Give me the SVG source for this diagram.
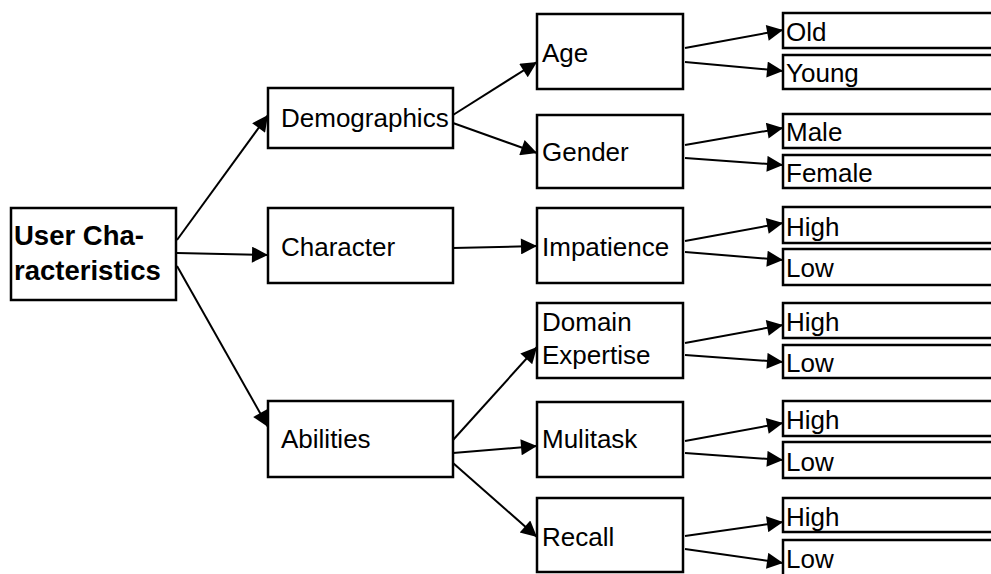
<svg xmlns="http://www.w3.org/2000/svg" width="991" height="574" viewBox="0 0 991 574">
  <style>
    .box { fill: #fff; stroke: #000; stroke-width: 2.5; }
    .t { font-family: "Liberation Sans", Arial, sans-serif; font-size: 26px; fill: #000; }
    .tb { font-family: "Liberation Sans", Arial, sans-serif; font-size: 27.5px; font-weight: bold; fill: #000; }
    .edge { stroke: #000; stroke-width: 2; fill: none; marker-end: url(#arrow); }
  </style>
  <defs>
    <marker id="arrow" viewBox="0 0 10 10" refX="10" refY="5" markerUnits="userSpaceOnUse" markerWidth="18" markerHeight="16" orient="auto">
      <path d="M0,0 L10,5 L0,10 Z" fill="#000"/>
    </marker>
  </defs>
  <rect width="991" height="574" fill="#fff"/>

  <!-- connectors -->
  <g id="connectors">
    <line class="edge" x1="177" y1="240" x2="268" y2="115"/>
    <line class="edge" x1="177" y1="253" x2="268" y2="255"/>
    <line class="edge" x1="177" y1="266" x2="268" y2="427"/>

    <line class="edge" x1="453" y1="115" x2="537" y2="62"/>
    <line class="edge" x1="453" y1="123" x2="537" y2="153"/>
    <line class="edge" x1="453" y1="248" x2="537" y2="246"/>
    <line class="edge" x1="453" y1="440" x2="537" y2="347"/>
    <line class="edge" x1="453" y1="453" x2="537" y2="446"/>
    <line class="edge" x1="453" y1="463" x2="537" y2="537"/>

    <line class="edge" x1="685" y1="48" x2="783" y2="30"/>
    <line class="edge" x1="685" y1="62" x2="783" y2="71"/>
    <line class="edge" x1="685" y1="145" x2="783" y2="128"/>
    <line class="edge" x1="685" y1="158" x2="783" y2="165"/>
    <line class="edge" x1="685" y1="241" x2="783" y2="223"/>
    <line class="edge" x1="685" y1="252" x2="783" y2="260"/>
    <line class="edge" x1="685" y1="343" x2="783" y2="325"/>
    <line class="edge" x1="685" y1="355" x2="783" y2="362"/>
    <line class="edge" x1="685" y1="441" x2="783" y2="423"/>
    <line class="edge" x1="685" y1="453" x2="783" y2="460"/>
    <line class="edge" x1="685" y1="536" x2="783" y2="522"/>
    <line class="edge" x1="685" y1="549" x2="783" y2="563"/>
  </g>

  <!-- root -->
  <g id="user-characteristics">
    <rect class="box" x="11" y="208" width="165" height="92"/>
    <text class="tb" x="14" y="245">User Cha-</text>
    <text class="tb" x="14" y="280">racteristics</text>
  </g>

  <!-- second level -->
  <g id="demographics">
    <rect class="box" x="268" y="88" width="185" height="60"/>
    <text class="t" x="281" y="127">Demographics</text>
  </g>
  <g id="character">
    <rect class="box" x="268" y="208" width="185" height="75"/>
    <text class="t" x="281" y="256">Character</text>
  </g>
  <g id="abilities">
    <rect class="box" x="268" y="401" width="185" height="76"/>
    <text class="t" x="281" y="448">Abilities</text>
  </g>

  <!-- third level -->
  <g id="age">
    <rect class="box" x="537" y="14" width="146" height="75"/>
    <text class="t" x="542" y="62">Age</text>
  </g>
  <g id="gender">
    <rect class="box" x="537" y="115" width="146" height="73"/>
    <text class="t" x="542" y="161">Gender</text>
  </g>
  <g id="impatience">
    <rect class="box" x="537" y="208" width="146" height="75"/>
    <text class="t" x="542" y="256">Impatience</text>
  </g>
  <g id="domain-expertise">
    <rect class="box" x="537" y="303" width="146" height="75"/>
    <text class="t" x="542" y="331">Domain</text>
    <text class="t" x="542" y="364">Expertise</text>
  </g>
  <g id="mulitask">
    <rect class="box" x="537" y="402" width="146" height="75"/>
    <text class="t" x="542" y="448">Mulitask</text>
  </g>
  <g id="recall">
    <rect class="box" x="537" y="498" width="146" height="74"/>
    <text class="t" x="542" y="546">Recall</text>
  </g>

  <!-- leaf values -->
  <g id="old">
    <rect class="box" x="783" y="13" width="220" height="35"/>
    <text class="t" x="786" y="41">Old</text>
  </g>
  <g id="young">
    <rect class="box" x="783" y="55" width="220" height="34"/>
    <text class="t" x="786" y="82">Young</text>
  </g>
  <g id="male">
    <rect class="box" x="783" y="114" width="220" height="34"/>
    <text class="t" x="786" y="141">Male</text>
  </g>
  <g id="female">
    <rect class="box" x="783" y="155" width="220" height="33"/>
    <text class="t" x="786" y="182">Female</text>
  </g>
  <g id="impatience-high">
    <rect class="box" x="783" y="207" width="220" height="36"/>
    <text class="t" x="786" y="236">High</text>
  </g>
  <g id="impatience-low">
    <rect class="box" x="783" y="249" width="220" height="36"/>
    <text class="t" x="786" y="277">Low</text>
  </g>
  <g id="expertise-high">
    <rect class="box" x="783" y="303" width="220" height="35"/>
    <text class="t" x="786" y="331">High</text>
  </g>
  <g id="expertise-low">
    <rect class="box" x="783" y="345" width="220" height="33"/>
    <text class="t" x="786" y="372">Low</text>
  </g>
  <g id="mulitask-high">
    <rect class="box" x="783" y="401" width="220" height="35"/>
    <text class="t" x="786" y="429">High</text>
  </g>
  <g id="mulitask-low">
    <rect class="box" x="783" y="442" width="220" height="36"/>
    <text class="t" x="786" y="471">Low</text>
  </g>
  <g id="recall-high">
    <rect class="box" x="783" y="498" width="220" height="34"/>
    <text class="t" x="786" y="526">High</text>
  </g>
  <g id="recall-low">
    <rect class="box" x="783" y="540" width="220" height="40"/>
    <text class="t" x="786" y="568">Low</text>
  </g>
</svg>
